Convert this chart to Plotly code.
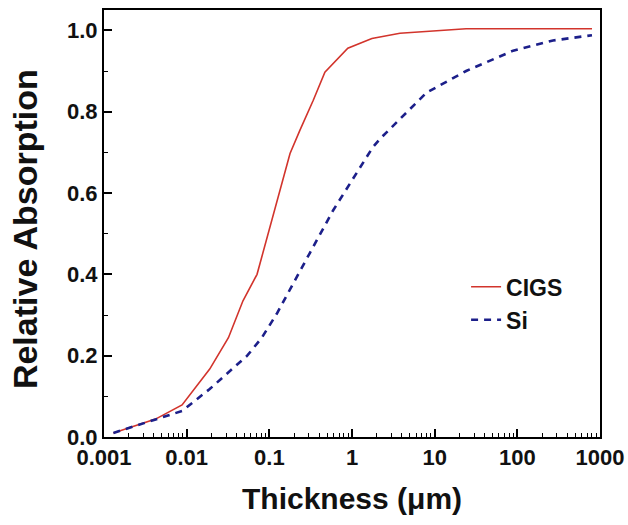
import plotly.graph_objects as go

# Data
cigs_x = [0.0013, 0.0042, 0.0088, 0.019, 0.032, 0.048, 0.071, 0.178, 0.234, 0.34, 0.47, 0.89, 1.74, 3.8, 24, 800]
cigs_y = [0.010, 0.044, 0.079, 0.167, 0.244, 0.335, 0.400, 0.697, 0.754, 0.828, 0.897, 0.956, 0.980, 0.993, 1.004, 1.004]

si_x = [0.0013, 0.0042, 0.0088, 0.019, 0.054, 0.081, 0.123, 0.31, 0.59, 1.78, 2.2, 8, 24, 89, 270, 800]
si_y = [0.010, 0.044, 0.064, 0.118, 0.200, 0.244, 0.303, 0.453, 0.557, 0.712, 0.734, 0.847, 0.900, 0.950, 0.975, 0.988]

x_tickvals = [0.001, 0.01, 0.1, 1, 10, 100, 1000]
x_ticktext = ["0.001", "0.01", "0.1", "1", "10", "100", "1000"]
y_tickvals = [0.0, 0.2, 0.4, 0.6, 0.8, 1.0]

x_title = "Thickness (μm)"
y_title = "Relative Absorption"

font_family = "Liberation Sans, Arial, sans-serif"
txt = "#111111"

fig = go.Figure()
fig.add_trace(go.Scatter(x=cigs_x, y=cigs_y, mode="lines", name="CIGS",
                         line=dict(color="#d2342c", width=1.6)))
fig.add_trace(go.Scatter(x=si_x, y=si_y, mode="lines", name="Si",
                         line=dict(color="#1c1f8a", width=2.6, dash="7px,6px")))

fig.update_layout(
    width=628, height=525,
    margin=dict(l=104, r=28, t=10, b=88, autoexpand=False),
    paper_bgcolor="white", plot_bgcolor="white",
    font=dict(family=font_family, color="black"),
    showlegend=True,
    legend=dict(x=0.73, y=0.402, xanchor="left", yanchor="top",
                bgcolor="rgba(0,0,0,0)",
                font=dict(size=23, family=font_family, color=txt, weight="bold"),
                tracegroupgap=0),
    annotations=[
        dict(text=x_title, xref="paper", yref="paper", x=0.5, y=-0.143,
             xanchor="center", yanchor="middle", showarrow=False,
             font=dict(size=30, family=font_family, color=txt, weight="bold")),
        dict(text=y_title, xref="paper", yref="paper", x=-0.158, y=0.486,
             xanchor="center", yanchor="middle", showarrow=False, textangle=-90,
             font=dict(size=34, family=font_family, color=txt, weight="bold")),
    ],
)

fig.update_xaxes(
    type="log", range=[-3, 3], automargin=False,
    tickvals=x_tickvals, ticktext=x_ticktext,
    ticks="inside", ticklen=8, tickwidth=1.5, tickcolor="black",
    minor=dict(ticks="inside", ticklen=4, tickcolor="black", tickwidth=1, dtick="D1"),
    showline=True, linecolor="black", linewidth=2, mirror=True,
    showgrid=False, zeroline=False,
    tickfont=dict(size=22, family=font_family, color=txt, weight="bold"),
)
fig.update_yaxes(
    range=[0, 1.05], automargin=False,
    tickvals=y_tickvals, tickformat=".1f",
    ticks="inside", ticklen=8, tickwidth=1.5, tickcolor="black",
    minor=dict(ticks="inside", ticklen=4, tickcolor="black", tickwidth=1, dtick=0.1),
    showline=True, linecolor="black", linewidth=2, mirror=True,
    showgrid=False, zeroline=False,
    tickfont=dict(size=22, family=font_family, color=txt, weight="bold"),
)

fig.write_html("out.html",
               config={"displayModeBar": False},
               post_script="document.body.style.margin='0';document.body.style.padding='0';")
